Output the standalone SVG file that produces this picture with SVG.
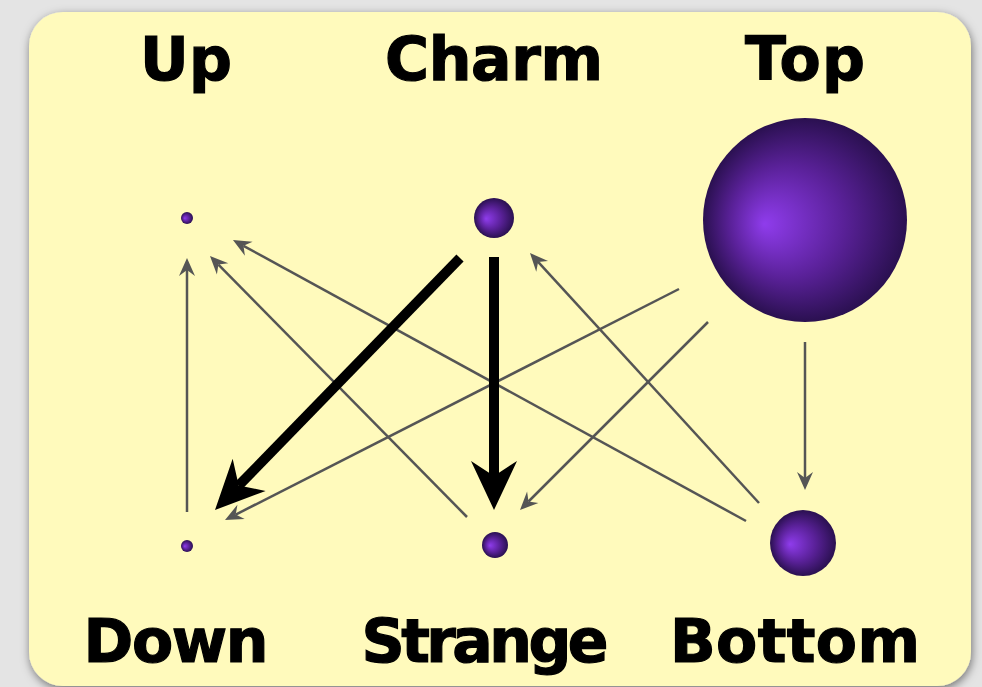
<svg xmlns="http://www.w3.org/2000/svg" width="982" height="687" viewBox="0 0 982 687">
<defs>
<style>
.lbl{font-family:"DejaVu Sans","Liberation Sans",sans-serif;font-weight:bold;font-size:60px;fill:#000;stroke:#000;stroke-width:1.2;text-anchor:middle}
.thin{stroke:#555;stroke-width:2.5;fill:none;marker-end:url(#ah)}
.thick{stroke:#000;stroke-width:10;fill:none;marker-end:url(#AH)}
.ball{fill:url(#g)}
</style>
<radialGradient id="g" cx="0.5" cy="0.5" r="0.5" fx="0.3" fy="0.52">
<stop offset="0" stop-color="#8f3cec"/>
<stop offset="0.55" stop-color="#5a2199"/>
<stop offset="1" stop-color="#2a1050"/>
</radialGradient>
<marker id="ah" markerUnits="userSpaceOnUse" markerWidth="22" markerHeight="20" viewBox="-20 -10 22 20" refX="-12" refY="0" orient="auto">
<path d="M0,0 L-18,-8 L-12,0 L-18,8 Z" fill="#555"/>
</marker>
<marker id="AH" markerUnits="userSpaceOnUse" markerWidth="56" markerHeight="56" viewBox="-54 -28 56 56" refX="-34" refY="0" orient="auto">
<path d="M0,0 L-49,-23 L-34,0 L-49,23 Z" fill="#000"/>
</marker>
<filter id="sh" x="-5%" y="-5%" width="110%" height="110%">
<feDropShadow dx="1" dy="3" stdDeviation="5" flood-color="#000" flood-opacity="0.5"/>
</filter>
</defs>
<rect width="982" height="687" fill="#e4e4e4"/>
<rect x="29" y="12" width="942" height="674" rx="34" ry="34" fill="#fffabc" filter="url(#sh)"/>
<g id="connectors">
<line class="thin" x1="187" y1="512" x2="187" y2="270"/>
<line class="thin" x1="467" y1="517" x2="218.4" y2="264.6"/>
<line class="thin" x1="746" y1="521" x2="243.5" y2="245.8"/>
<line class="thin" x1="759" y1="503" x2="538.1" y2="261.9"/>
<line class="thin" x1="805" y1="342" x2="805" y2="478"/>
<line class="thin" x1="679" y1="289" x2="235.7" y2="514.6"/>
<line class="thin" x1="708" y1="322" x2="528.5" y2="501.5"/>
<line class="thick" x1="460" y1="258" x2="238.7" y2="485.6"/>
<line class="thick" x1="494" y1="257" x2="494" y2="476"/>
</g>
<g id="up"><circle class="ball" cx="187" cy="218" r="6"/><text class="lbl" x="186" y="80" textLength="92">Up</text></g>
<g id="charm"><circle class="ball" cx="494" cy="218" r="20"/><text class="lbl" x="494" y="80" textLength="218">Charm</text></g>
<g id="top"><circle class="ball" cx="805" cy="220" r="102"/><text class="lbl" x="805" y="80" textLength="120">Top</text></g>
<g id="down"><circle class="ball" cx="187" cy="546" r="6"/><text class="lbl" x="176" y="662" textLength="185">Down</text></g>
<g id="strange"><circle class="ball" cx="495" cy="545" r="13"/><text class="lbl" x="485" y="662" textLength="247">Strange</text></g>
<g id="bottom"><circle class="ball" cx="803" cy="543" r="33"/><text class="lbl" x="795" y="662" textLength="250">Bottom</text></g>
</svg>
